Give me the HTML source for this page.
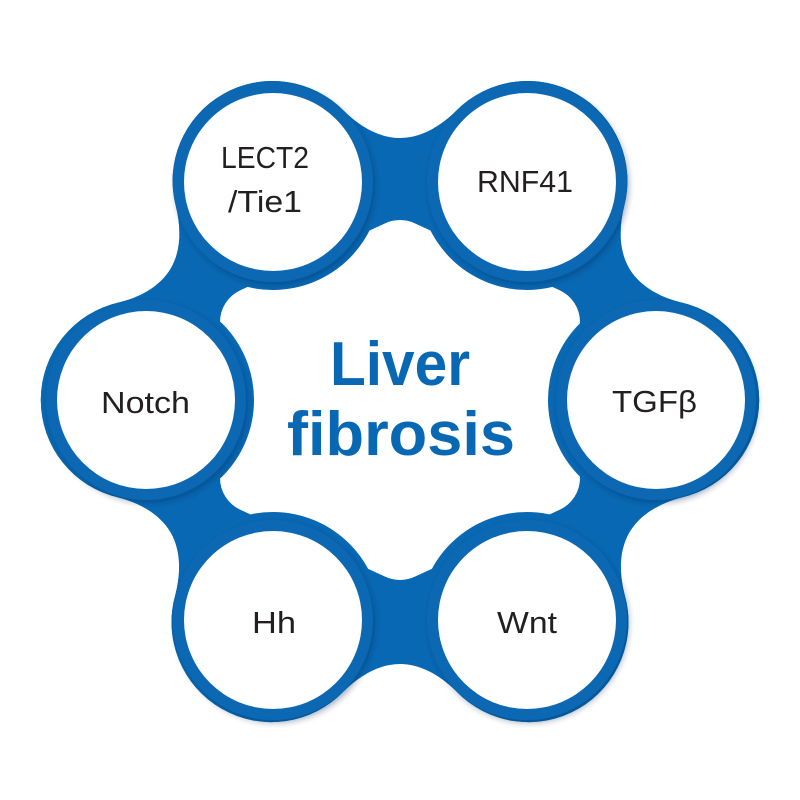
<!DOCTYPE html>
<html><head><meta charset="utf-8"><style>
html,body{margin:0;padding:0;background:#fff;}
svg{display:block;}
.l{font-family:"Liberation Sans",sans-serif;font-size:31px;fill:#231f20;}
.c{font-family:"Liberation Sans",sans-serif;font-size:62px;font-weight:bold;fill:#0868b3;}
</style></head><body>
<svg width="800" height="800" viewBox="0 0 800 800" xmlns="http://www.w3.org/2000/svg">
<defs>
<filter id="sh" x="-20%" y="-20%" width="140%" height="140%"><feDropShadow dx="2" dy="3" stdDeviation="3" flood-color="#002a55" flood-opacity="0.35"/></filter>
<path id="outer" d="M344,111 C360,127 380,138 400,138 C420,138 440,127 456,111
A100,100 0 0 1 624.1,206.5 C618.5,228.4 619.2,251.4 629.4,268.6 C639.6,285.8 659.3,297.4 681.3,302.5
A100,100 0 0 1 681.1,497.6 C659.2,503.3 639.6,515 629.5,532.3 C619.4,549.6 618.8,572.3 624.5,594.2
A100,100 0 0 1 456,691 C440,675 420,664 400,664 C380,664 360,675 344,691
A100,100 0 0 1 175.5,594.2 C181.2,572.3 180.6,549.6 170.5,532.3 C160.4,515 140.8,503.3 118.9,497.6
A100,100 0 0 1 118.7,302.5 C140.7,297.4 160.4,285.8 170.6,268.6 C180.8,251.4 181.5,228.4 175.9,206.5
A100,100 0 0 1 344,111 Z"/>
<clipPath id="cp"><use href="#outer"/></clipPath>
</defs>
<use href="#outer" fill="#0868b3"/>
<polygon points="400,255 545,322 545,478 400,545 255,478 255,322" fill="#fff" stroke="#fff" stroke-width="70" stroke-linejoin="round"/>
<g fill="#0868b3" clip-path="url(#cp)">
<circle cx="273" cy="182" r="108"/>
<circle cx="527" cy="182" r="108"/>
<circle cx="656" cy="400" r="108"/>
<circle cx="527" cy="620" r="108"/>
<circle cx="273" cy="620" r="108"/>
<circle cx="146" cy="400" r="108"/>
</g>
<g filter="url(#sh)" fill="#0868b3">
<circle cx="273" cy="182" r="100"/>
<circle cx="527" cy="182" r="100"/>
<circle cx="656" cy="400" r="100"/>
<circle cx="527" cy="620" r="100"/>
<circle cx="273" cy="620" r="100"/>
<circle cx="146" cy="400" r="100"/>
</g>
<g fill="#fff">
<circle cx="273" cy="182" r="89"/>
<circle cx="527" cy="182" r="89"/>
<circle cx="656" cy="400" r="89"/>
<circle cx="527" cy="620" r="89"/>
<circle cx="273" cy="620" r="89"/>
<circle cx="146" cy="400" r="89"/>
</g>
<text class="l" x="221" y="168" textLength="88" lengthAdjust="spacingAndGlyphs">LECT2</text>
<text class="l" x="228" y="212" textLength="74" lengthAdjust="spacingAndGlyphs">/Tie1</text>
<text class="l" x="477" y="192" textLength="96" lengthAdjust="spacingAndGlyphs">RNF41</text>
<text class="l" x="101" y="413" textLength="89" lengthAdjust="spacingAndGlyphs">Notch</text>
<text class="l" x="612" y="412" textLength="85" lengthAdjust="spacingAndGlyphs">TGFβ</text>
<text class="l" x="252" y="633" textLength="44" lengthAdjust="spacingAndGlyphs">Hh</text>
<text class="l" x="497" y="633" textLength="60" lengthAdjust="spacingAndGlyphs">Wnt</text>
<text class="c" x="330" y="385" textLength="140" lengthAdjust="spacingAndGlyphs">Liver</text>
<text class="c" x="287" y="455" textLength="228" lengthAdjust="spacingAndGlyphs">fibrosis</text>
</svg>
</body></html>
